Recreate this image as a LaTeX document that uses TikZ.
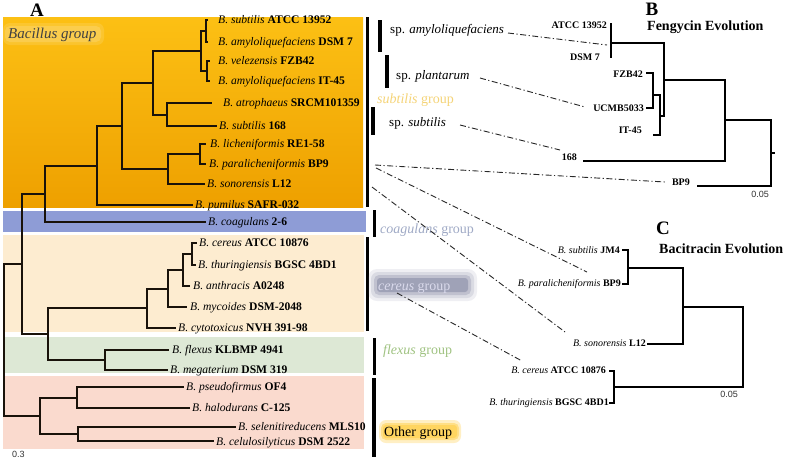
\documentclass[tikz,border=0pt]{standalone}
\usepackage{fontspec}
\setmainfont{Liberation Serif}
\newfontfamily\sansf{Liberation Sans}
\definecolor{bandtop}{RGB}{252,192,20}
\definecolor{bandbot}{RGB}{238,160,0}
\definecolor{bandblue}{RGB}{142,156,214}
\definecolor{bandcer}{RGB}{253,236,208}
\definecolor{bandflx}{RGB}{221,232,213}
\definecolor{bandoth}{RGB}{250,218,206}
\definecolor{treeline}{RGB}{25,18,10}
\definecolor{subtcol}{RGB}{245,212,120}
\definecolor{coagcol}{RGB}{160,170,198}
\definecolor{flexcol}{RGB}{160,195,130}
\definecolor{cerbg}{RGB}{100,105,140}
\definecolor{certxt}{RGB}{218,218,236}
\definecolor{othbg}{RGB}{255,205,60}
\definecolor{dashcol}{RGB}{40,40,40}
\begin{document}
\begin{tikzpicture}[x=1pt,y=-1pt,
  br/.style={line width=2pt, draw=treeline},
  brb/.style={line width=1.8pt, draw=black},
  leaf/.style={anchor=base west, inner sep=0pt, font=\fontsize{11.6}{13}\selectfont},
  leafB/.style={anchor=base east, inner sep=0pt, font=\fontsize{10}{12}\selectfont\bfseries},
  leafC/.style={anchor=base east, inner sep=0pt, font=\fontsize{10}{12}\selectfont},
  grp/.style={anchor=base west, inner sep=0pt, font=\fontsize{14}{16}\selectfont},
  spl/.style={anchor=base west, inner sep=0pt, font=\fontsize{13}{15}\selectfont},
  panel/.style={inner sep=0pt, font=\fontsize{19}{21}\selectfont\bfseries},
  ptitle/.style={anchor=base west, inner sep=0pt, font=\fontsize{14}{16}\selectfont\bfseries},
  scalelab/.style={inner sep=0pt, font=\fontsize{9}{10}\selectfont\sansf, text=black!80},
  dd/.style={draw=dashcol, line width=0.9pt, dash pattern=on 6pt off 2.5pt on 1.2pt off 2.5pt},
  bar/.style={fill=black},
]
\useasboundingbox (0,0) rectangle (794,461);
\fill[white] (0,0) rectangle (794,461);

% ---------- background bands ----------
\shade[top color=bandtop,bottom color=bandbot] (3,17) rectangle (363,207);
\fill[bandblue] (3,211) rectangle (366,232);
\fill[bandcer] (3,235) rectangle (364,332);
\fill[bandflx] (3,337) rectangle (364,373);
\fill[bandoth] (3,376) rectangle (364,449);

% Bacillus group label with soft glow
\fill[white,opacity=0.12,rounded corners=7pt] (3,23) rectangle (104,45);
\fill[white,opacity=0.15,rounded corners=5pt] (5,26) rectangle (101,42);
\node[anchor=base west,inner sep=0pt,font=\fontsize{15}{17}\selectfont\itshape,text=black!75] (bacg) at (8,38) {Bacillus group};

% ---------- tree A ----------
\coordinate (t1) at (208,20);
\coordinate (t2) at (208,42);
\coordinate (t3) at (210,61);
\coordinate (t4) at (210,81);
\coordinate (t5) at (212,103);
\coordinate (t6) at (217,126);
\coordinate (t7) at (206,144);
\coordinate (t8) at (206,164);
\coordinate (t9) at (205,184);
\coordinate (t10) at (193,205);
\coordinate (t11) at (206,222);
\coordinate (t12) at (197,243);
\coordinate (t13) at (196,265);
\coordinate (t14) at (190,286);
\coordinate (t15) at (187,307);
\coordinate (t16) at (176,328);
\coordinate (t17) at (169,350);
\coordinate (t18) at (168,370);
\coordinate (t19) at (184,387);
\coordinate (t20) at (190,408);
\coordinate (t21) at (236,427);
\coordinate (t22) at (214,441);

\coordinate (n1) at (206,31);
\coordinate (n2) at (207,71);
\coordinate (n3) at (201,51);
\coordinate (n5) at (167,114.5);
\coordinate (n4) at (153,83);
\coordinate (n7) at (200,154);
\coordinate (n8) at (168,169);
\coordinate (n6) at (122,126);
\coordinate (n9) at (97,165.5);
\coordinate (n10) at (45,194);
\coordinate (c1) at (192,254);
\coordinate (c2) at (183,270);
\coordinate (c3) at (168,288.5);
\coordinate (c4) at (147,308);
\coordinate (f1) at (105,360);
\coordinate (n12) at (48,334);
\coordinate (n11) at (22,264);
\coordinate (o1) at (77,397.5);
\coordinate (o2) at (78,434);
\coordinate (o3) at (40,416);
\coordinate (root) at (4,340);

\draw[br] (n1) |- (t1) (n1) |- (t2);
\draw[br] (n2) |- (t3) (n2) |- (t4);
\draw[br] (n3) |- (n1) (n3) |- (n2);
\draw[br] (n5) |- (t5) (n5) |- (t6);
\draw[br] (n4) |- (n3) (n4) |- (n5);
\draw[br] (n7) |- (t7) (n7) |- (t8);
\draw[br] (n8) |- (n7) (n8) |- (t9);
\draw[br] (n6) |- (n4) (n6) |- (n8);
\draw[br] (n9) |- (n6) (n9) |- (t10);
\draw[br] (n10) |- (n9) (n10) |- (t11);
\draw[br] (c1) |- (t12) (c1) |- (t13);
\draw[br] (c2) |- (c1) (c2) |- (t14);
\draw[br] (c3) |- (c2) (c3) |- (t15);
\draw[br] (c4) |- (c3) (c4) |- (t16);
\draw[br] (f1) |- (t17) (f1) |- (t18);
\draw[br] (n12) |- (c4) (n12) |- (f1);
\draw[br] (n11) |- (n10) (n11) |- (n12);
\draw[br] (o1) |- (t19) (o1) |- (t20);
\draw[br] (o2) |- (t21) (o2) |- (t22);
\draw[br] (o3) |- (o1) (o3) |- (o2);
\draw[br] (root) |- (n11) (root) |- (o3);

% leaf labels A
\node[leaf] (l1) at (218,23.8) {\textit{B. subtilis} \textbf{ATCC 13952}};
\node[leaf] (l2) at (218,45.8) {\textit{B. amyloliquefaciens} \textbf{DSM 7}};
\node[leaf] (l3) at (218,64.8) {\textit{B. velezensis} \textbf{FZB42}};
\node[leaf] (l4) at (218,84.8) {\textit{B. amyloliquefaciens} \textbf{IT-45}};
\node[leaf] (l5) at (223,106.8) {\textit{B. atrophaeus} \textbf{SRCM101359}};
\node[leaf] (l6) at (219,129.8) {\textit{B. subtilis} \textbf{168}};
\node[leaf] (l7) at (210,147.8) {\textit{B. licheniformis} \textbf{RE1-58}};
\node[leaf] (l8) at (209,167.8) {\textit{B. paralicheniformis} \textbf{BP9}};
\node[leaf] (l9) at (207,187.8) {\textit{B. sonorensis} \textbf{L12}};
\node[leaf] (l10) at (195,208.8) {\textit{B. pumilus} \textbf{SAFR-032}};
\node[leaf] (l11) at (208,225.8) {\textit{B. coagulans} \textbf{2-6}};
\node[leaf] (l12) at (199,246.8) {\textit{B. cereus} \textbf{ATCC 10876}};
\node[leaf] (l13) at (198,268.8) {\textit{B. thuringiensis} \textbf{BGSC 4BD1}};
\node[leaf] (l14) at (193,289.8) {\textit{B. anthracis} \textbf{A0248}};
\node[leaf] (l15) at (190,310.8) {\textit{B. mycoides} \textbf{DSM-2048}};
\node[leaf] (l16) at (178,331.8) {\textit{B. cytotoxicus} \textbf{NVH 391-98}};
\node[leaf] (l17) at (172,353.8) {\textit{B. flexus} \textbf{KLBMP 4941}};
\node[leaf] (l18) at (170,373.8) {\textit{B. megaterium} \textbf{DSM 319}};
\node[leaf] (l19) at (186,390.8) {\textit{B. pseudofirmus} \textbf{OF4}};
\node[leaf] (l20) at (192,411.8) {\textit{B. halodurans} \textbf{C-125}};
\node[leaf] (l21) at (238,430.8) {\textit{B. selenitireducens} \textbf{MLS10}};
\node[leaf] (l22) at (216,445.8) {\textit{B. celulosilyticus} \textbf{DSM 2522}};

\node[scalelab,anchor=west] (s03) at (12,454) {0.3};
\node[panel] (pA) at (37,10) {A};

% ---------- group bars ----------
\fill[bar] (365.5,17) rectangle (369,207);
\fill[bar] (372.5,210) rectangle (376,237);
\fill[bar] (365.5,237) rectangle (369,331);
\fill[bar] (372.5,338) rectangle (376,375);
\fill[bar] (372,378) rectangle (375.5,457);
\fill[bar] (378,20) rectangle (381.5,52);
\fill[bar] (385,55) rectangle (388.5,88);
\fill[bar] (371,107) rectangle (374.5,135);

% ---------- group labels ----------
\node[spl] (spam) at (390,33) {sp. \textit{amyloliquefaciens}};
\node[spl] (sppl) at (396,79) {sp. \textit{plantarum}};
\fill[white,opacity=0.5,rounded corners=5pt] (374,92) rectangle (462,108);
\node[grp,text=subtcol] (subg) at (377,103.5) {\textit{subtilis} group};
\node[spl] (spsu) at (389,126) {sp. \textit{subtilis}};
\node[grp,text=coagcol] (coag) at (380,233.5) {\textit{coagulans} group};
\fill[cerbg,opacity=0.10,rounded corners=9pt] (368,269) rectangle (477,301);
\fill[cerbg,opacity=0.15,rounded corners=7pt] (371,272) rectangle (474,298);
\fill[cerbg,opacity=0.22,rounded corners=5pt] (374,275) rectangle (471,295);
\fill[cerbg,opacity=0.35,rounded corners=3pt] (377,278) rectangle (468,292);
\node[grp,text=certxt] (cerg) at (378,290) {\textit{cereus} group};
\node[grp,text=flexcol] (flxg) at (383,354.5) {\textit{flexus} group};
\fill[othbg,opacity=0.3,rounded corners=7pt] (379,420) rectangle (461,443);
\fill[othbg,opacity=0.45,rounded corners=5pt] (381,423) rectangle (459,440);
\fill[othbg,opacity=0.5,rounded corners=3pt] (383,425) rectangle (457,438);
\node[grp] (othg) at (384,436) {Other group};

% ---------- panel B ----------
\node[panel] (pB) at (652,9) {B};
\node[ptitle] (tB) at (647,30) {Fengycin Evolution};
\coordinate (bt1) at (611,23);
\coordinate (bt2) at (611,58);
\coordinate (bA) at (611,43);
\coordinate (bt3) at (646,73);
\coordinate (bt4) at (646,108);
\coordinate (bF) at (653,95);
\coordinate (bt5) at (653,135);
\coordinate (bG) at (660,116);
\coordinate (bH) at (664,80);
\coordinate (bt6) at (583,161);
\coordinate (bI) at (725,120);
\coordinate (bt7) at (697,186);
\coordinate (bJ) at (771,153);
\coordinate (broot) at (775,153);
\draw[brb] (bA) |- (bt1) (bA) |- (bt2);
\draw[brb] (bF) |- (bt3) (bF) |- (bt4);
\draw[brb] (bG) |- (bF) (bG) |- (bt5);
\draw[brb] (bH) |- (bA) (bH) |- (bG);
\draw[brb] (bI) |- (bH) (bI) |- (bt6);
\draw[brb] (bJ) |- (bI) (bJ) |- (bt7);
\draw[brb] (bJ) -- (broot);
\node[leafB] (bl1) at (607,28.5) {ATCC 13952};
\node[leafB] (bl2) at (600,60.5) {DSM 7};
\node[leafB] (bl3) at (643,77.5) {FZB42};
\node[leafB] (bl4) at (644,111.5) {UCMB5033};
\node[leafB] (bl5) at (642,133.5) {IT-45};
\node[leafB] (bl6) at (577,160.5) {168};
\node[leafB] (bl7) at (690,185.5) {BP9};
\node[scalelab] (sB) at (760,194) {0.05};

% ---------- panel C ----------
\node[panel] (pC) at (663,228) {C};
\node[ptitle] (tC) at (659,253) {Bacitracin Evolution};
\coordinate (ct1) at (622,250);
\coordinate (ct2) at (622,284);
\coordinate (cA) at (628,268);
\coordinate (ct3) at (647,344);
\coordinate (cB) at (683,307);
\coordinate (ct4) at (609,371);
\coordinate (ct5) at (609,403);
\coordinate (cD) at (614,387);
\coordinate (cC) at (743,347);
\draw[brb] (cA) |- (ct1) (cA) |- (ct2);
\draw[brb] (cB) |- (cA) (cB) |- (ct3);
\draw[brb] (cD) |- (ct4) (cD) |- (ct5);
\draw[brb] (cC) |- (cB) (cC) |- (cD);
\node[leafC] (cl1) at (620,253.3) {\textit{B. subtilis} \textbf{JM4}};
\node[leafC] (cl2) at (621,286.3) {\textit{B. paralicheniformis} \textbf{BP9}};
\node[leafC] (cl3) at (646,346.3) {\textit{B. sonorensis} \textbf{L12}};
\node[leafC] (cl4) at (606,373.3) {\textit{B. cereus} \textbf{ATCC 10876}};
\node[leafC] (cl5) at (609,405.3) {\textit{B. thuringiensis} \textbf{BGSC 4BD1}};
\node[scalelab] (sC) at (729,394) {0.05};

% ---------- dash-dot links ----------
\coordinate (d1s) at (508,33);  \coordinate (d1e) at (607,45);
\coordinate (d2s) at (480,78);  \coordinate (d2e) at (585,107);
\coordinate (d3s) at (460,125); \coordinate (d3e) at (560,150);
\coordinate (d4s) at (375,165); \coordinate (d4e) at (665,182);
\coordinate (d5s) at (376,168); \coordinate (d5e) at (587,272);
\coordinate (d6s) at (372,187); \coordinate (d6e) at (565,332);
\coordinate (d7s) at (397,293); \coordinate (d7e) at (522,361);
\draw[dd] (d1s) -- (d1e);
\draw[dd] (d2s) -- (d2e);
\draw[dd] (d3s) -- (d3e);
\draw[dd] (d4s) -- (d4e);
\draw[dd] (d5s) -- (d5e);
\draw[dd] (d6s) -- (d6e);
\draw[dd] (d7s) -- (d7e);
\end{tikzpicture}
\end{document}
